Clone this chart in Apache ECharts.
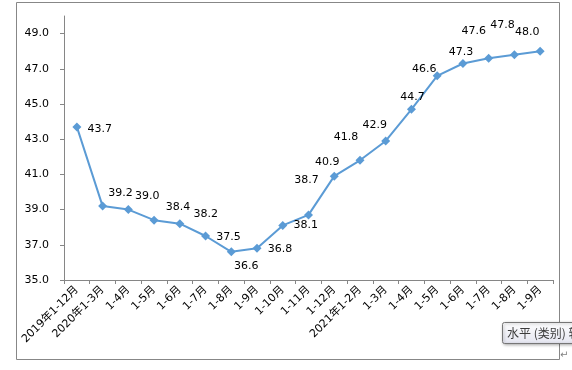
<!DOCTYPE html>
<html>
<head>
<meta charset="utf-8">
<script src="https://cdn.jsdelivr.net/npm/echarts@6/dist/echarts.min.js"></script>
<style>
html,body{margin:0;padding:0;background:#fff;}
#chart{width:572px;height:370px;}
</style>
</head>
<body>
<div id="chart"></div>
<script>
const categories = ['2019年1-12月','2020年1-3月','1-4月','1-5月','1-6月','1-7月','1-8月','1-9月','1-10月','1-11月','1-12月','2021年1-2月','1-3月','1-4月','1-5月','1-6月','1-7月','1-8月','1-9月'];
const values = [43.7,39.2,39.0,38.4,38.2,37.5,36.6,36.8,38.1,38.7,40.9,41.8,42.9,44.7,46.6,47.3,47.6,47.8,48.0];
const yTickValues = [35,37,39,41,43,45,47,49];

// label placement (style only): offset of each data label from its point
const labelOffsets = [[23,2],[18,-13],[19,-13],[24,-13],[26,-10],[23,1],[15,14],[23,1],[23,0],[-2,-35],[-7,-14],[-14,-23],[-11,-16],[1,-12],[-13,-7],[-2,-11],[-15,-27],[-12,-30],[-13,-19]];

const FONT = '"DejaVu Sans", "Noto Sans CJK SC", sans-serif';
const chart = echarts.init(document.getElementById('chart'), null, {renderer:'canvas'});
chart.setOption({
  animation:false,
  backgroundColor:'#fff',
  grid:{left:64, top:16, right:19, bottom:90, containLabel:false},
  xAxis:{
    type:'category',
    data:categories,
    boundaryGap:true,
    axisLine:{show:true, lineStyle:{color:'#868686', width:1}},
    axisTick:{show:true, interval:0, length:4, lineStyle:{color:'#868686'}},
    axisLabel:{interval:0, rotate:45, margin:8, color:'#000', fontSize:11, fontFamily:FONT},
    splitLine:{show:false}
  },
  yAxis:{
    type:'value',
    min:35, max:50,
    axisLine:{show:true, lineStyle:{color:'#868686', width:1}},
    axisTick:{show:true, length:4, customValues:yTickValues, lineStyle:{color:'#868686'}},
    axisLabel:{customValues:yTickValues, margin:15, color:'#000', fontSize:11, fontFamily:FONT,
      formatter:v=>Number(v).toFixed(1)},
    splitLine:{show:false}
  },
  series:[{
    type:'line',
    data:values.map((v,i)=>({value:v, label:{offset:labelOffsets[i]}})),
    symbol:'diamond',
    symbolSize:9,
    showAllSymbol:true,
    lineStyle:{color:'#5B9BD5', width:2},
    itemStyle:{color:'#5B9BD5'},
    label:{show:true, position:'inside', align:'center', verticalAlign:'middle',
      color:'#000', fontSize:11, fontFamily:FONT, formatter:p=>p.value.toFixed(1)}
  }],
  graphic:[
    {type:'rect', shape:{x:16.5, y:2.5, width:543, height:357}, style:{fill:null, stroke:'#878787', lineWidth:1}, silent:true, z:-1},
    {type:'rect', shape:{x:502.5, y:322.5, width:100, height:21, r:2},
      style:{fill:new echarts.graphic.LinearGradient(0,0,0,1,[{offset:0,color:'#ffffff'},{offset:1,color:'#e4e5f0'}]), stroke:'#767676', lineWidth:1, shadowBlur:3, shadowOffsetX:1, shadowOffsetY:1, shadowColor:'rgba(0,0,0,0.3)'}, z:10},
    {type:'text', x:507, y:333, style:{text:'水平 (类别) 轴', fill:'#3c3c3c', font:'12px "Noto Sans CJK SC", sans-serif', verticalAlign:'middle'}, z:11},
    {type:'text', x:560, y:355, style:{text:'↵', fill:'#808080', font:'10px "DejaVu Sans", sans-serif', verticalAlign:'middle'}, z:11}
  ]
});
</script>
</body>
</html>
